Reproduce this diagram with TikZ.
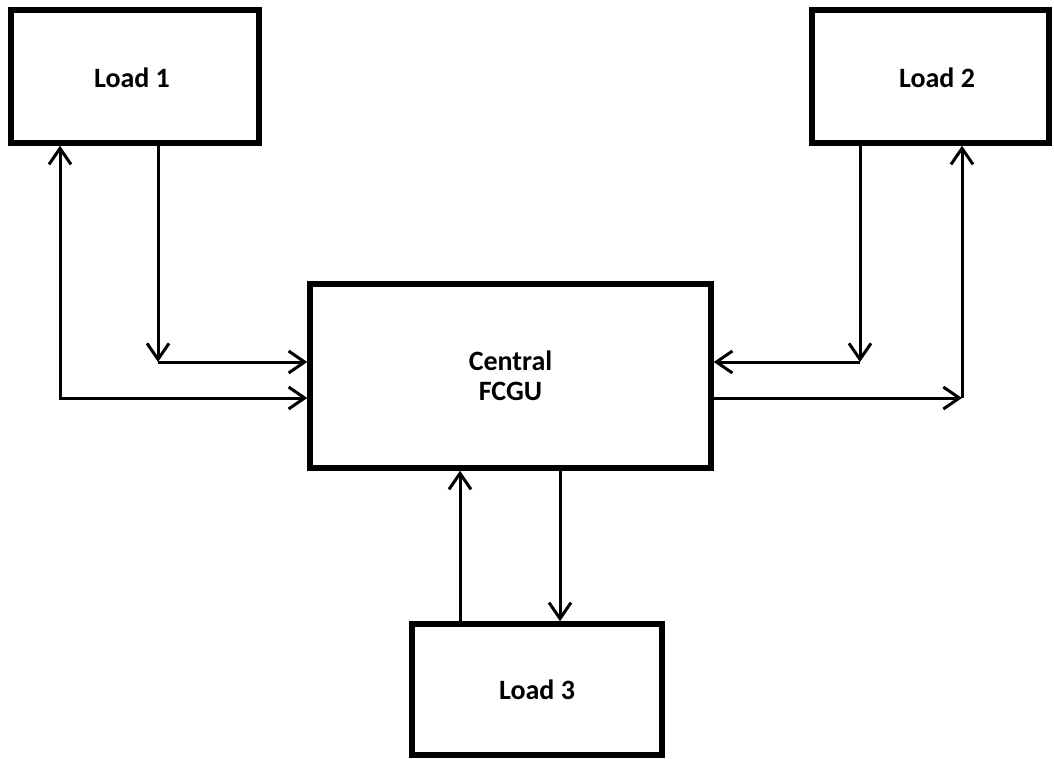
\documentclass[tikz,border=0pt]{standalone}
\usepackage{fontspec}
\setmainfont{Carlito}
\usetikzlibrary{arrows.meta}
\begin{document}
\begin{tikzpicture}[x=0.5pt,y=-0.5pt,
  box/.style={draw=black,line width=2.75pt,rectangle,inner sep=0pt,
    font=\bfseries\fontsize{14}{15}\selectfont,align=center},
  conn/.style={draw=black,line width=1.5pt,
    -{Straight Barb[length=8pt,width=11pt,line width=1.5pt]}},
  conn2/.style={draw=black,line width=1.5pt,
    {Straight Barb[length=8pt,width=11pt,line width=1.5pt]}-{Straight Barb[length=8pt,width=11pt,line width=1.5pt]}}]
\useasboundingbox (0,0) rectangle (1054,759);
\node[box,minimum width=124pt,minimum height=66.5pt] (L1) at (135,76.5) {};
\node[font=\bfseries\fontsize{14}{15}\selectfont] (t1) at (132,78) {Load 1};
\node[box,minimum width=118.5pt,minimum height=66.5pt] (L2) at (930.5,76.5) {};
\node[font=\bfseries\fontsize{14}{15}\selectfont] (t2) at (937,78) {Load 2};
\node[box,minimum width=200.5pt,minimum height=92pt] (C) at (510.5,376) {Central\\FCGU};
\node[box,minimum width=125pt,minimum height=65.5pt] (L3) at (537,689.5) {Load 3};
% coordinates
\coordinate (a1) at (60,398);
\coordinate (b1) at (158,362);
\coordinate (a2) at (962,398);
\coordinate (b2) at (860,362);
% Load 1 side
\draw[conn2] (L1.south -| a1) -- (a1) -- (a1 -| C.west);
\draw[conn] (L1.south -| b1) -- (b1);
\draw[conn] (b1) -- (b1 -| C.west);
% Load 2 side
\draw[conn] (L2.south -| b2) -- (b2);
\draw[conn] (b2) -- (b2 -| C.east);
\draw[conn] (a2 -| C.east) -- (a2);
\draw[conn] (a2) -- (L2.south -| a2);
% Load 3
\coordinate (u3) at (460,600);
\coordinate (d3) at (560,600);
\draw[conn] (L3.north -| u3) -- (C.south -| u3);
\draw[conn] (C.south -| d3) -- (L3.north -| d3);
\end{tikzpicture}
\end{document}
